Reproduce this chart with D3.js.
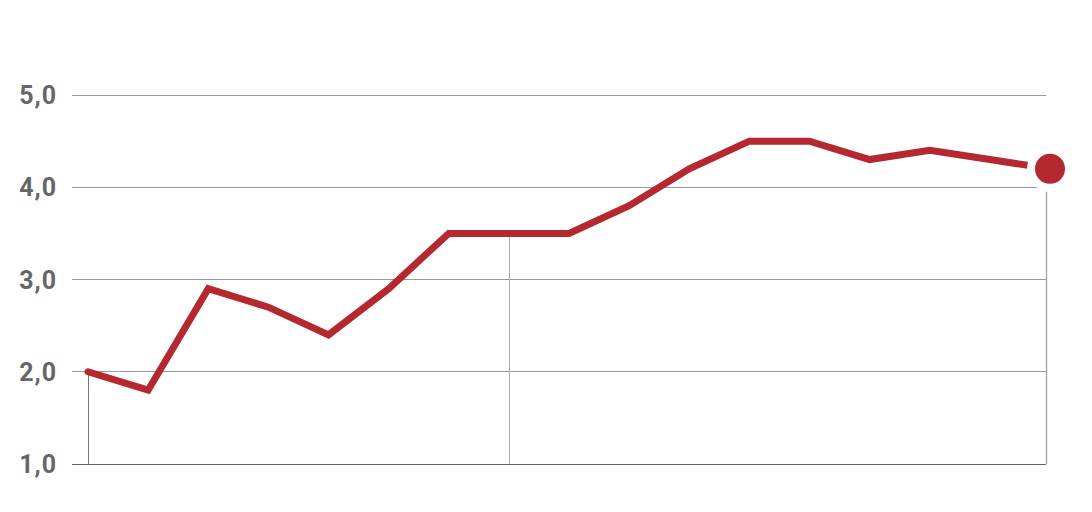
<!DOCTYPE html>
<html><head><meta charset="utf-8">
<script src="https://cdn.jsdelivr.net/npm/d3@7"></script>
<style>body{margin:0;background:#fff}svg{display:block}</style>
</head><body>
<svg id="c" width="1092" height="512"></svg>
<script>
const values = [2.0, 1.8, 2.9, 2.7, 2.4, 2.9, 3.5, 3.5, 3.5, 3.8, 4.2, 4.5, 4.5, 4.3, 4.4, 4.3, 4.2];
const yTicks = [1, 2, 3, 4, 5];
const dropIndices = [0, 7];

const svg = d3.select("#c");
const x = d3.scaleLinear().domain([0, values.length - 1]).range([88, 1050]);
const y = d3.scaleLinear().domain([1, 5]).range([464, 95]);
const gridX0 = 72, gridX1 = 1046;
const fmt = v => d3.format(".1f")(v).replace(".", ",");

// gridlines
svg.append("g").selectAll("line").data(yTicks).join("line")
  .attr("x1", gridX0).attr("x2", gridX1)
  .attr("y1", d => y(d)).attr("y2", d => y(d))
  .attr("stroke", d => d === 1 ? "#666" : "#999").attr("stroke-width", 1)
  .attr("shape-rendering", "crispEdges");

// labels
svg.append("g").selectAll("text").data(yTicks).join("text")
  .attr("x", 57).attr("y", d => y(d) + 9)
  .attr("text-anchor", "end")
  .attr("font-family", "Roboto, sans-serif").attr("font-weight", 700)
  .attr("font-size", 25).attr("letter-spacing", 1).attr("fill", "#666")
  .text(fmt);

// drop lines
svg.append("g").selectAll("line").data(dropIndices).join("line")
  .attr("x1", i => Math.round(x(i)) + 0.5).attr("x2", i => Math.round(x(i)) + 0.5)
  .attr("y1", i => y(values[i])).attr("y2", y(1))
  .attr("stroke", i => i === 0 ? "#777" : "#aaa").attr("stroke-width", 1);
// right end line
svg.append("line").attr("x1", gridX1 + 0.5).attr("x2", gridX1 + 0.5)
  .attr("y1", y(values[values.length - 1]) + 23).attr("y2", y(1))
  .attr("stroke", "#aaa").attr("stroke-width", 1.5);

// line
svg.append("path").datum(values)
  .attr("d", d3.line().x((d, i) => x(i)).y(d => y(d)))
  .attr("fill", "none").attr("stroke", "#b5282f").attr("stroke-width", 7)
  .attr("stroke-linejoin", "miter").attr("stroke-linecap", "round");

// end dot with halo
const last = values.length - 1;
svg.append("circle").attr("cx", x(last)).attr("cy", y(values[last])).attr("r", 19)
  .attr("fill", "#b5282f").attr("stroke", "#fff").attr("stroke-width", 8);
</script>
</body></html>
